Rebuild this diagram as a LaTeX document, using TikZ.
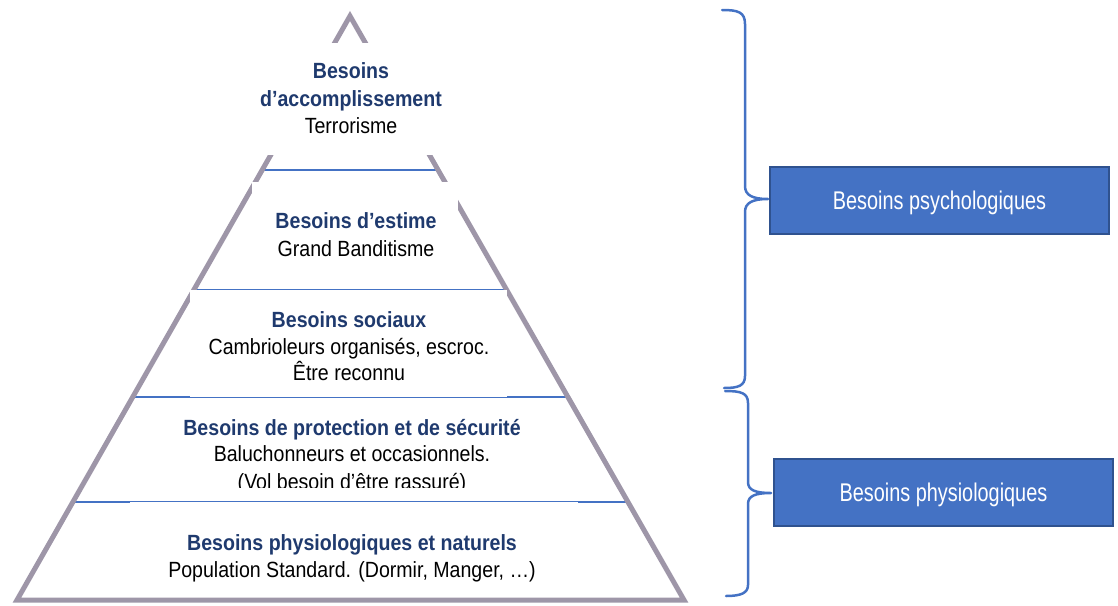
\documentclass[tikz,border=0pt]{standalone}
\usepackage{fontspec}
\setmainfont{Liberation Sans}
\usepackage{graphicx}
\definecolor{navy}{HTML}{1F3A6E}
\definecolor{pyrgray}{RGB}{158,150,168}
\definecolor{sepblue}{HTML}{4472C4}
\definecolor{boxborder}{HTML}{2F528F}
\newcommand{\nx}[1]{\scalebox{0.89}[1]{#1}}
\newcommand{\bx}[1]{\scalebox{0.776}[1]{#1}}
\begin{document}
\begin{tikzpicture}[x=1pt,y=-1pt,
  pyr/.style={draw=pyrgray, line width=5pt, line join=miter},
  sep/.style={draw=sepblue, line width=2pt},
  cover/.style={fill=white, draw=none},
  ttl/.style={anchor=base, inner sep=0pt, font=\fontsize{22}{26}\selectfont\bfseries, text=navy},
  txt/.style={anchor=base, inner sep=0pt, font=\fontsize{22}{26}\selectfont, text=black},
  brc/.style={draw=sepblue, line width=2.5pt, line cap=round, line join=round},
  bbox/.style={fill=sepblue, draw=boxborder, line width=2pt, minimum width=339pt, minimum height=67pt, inner sep=0pt, text height=18.3pt, text depth=0pt, text=white, font=\fontsize{25.6}{30}\selectfont}]
\useasboundingbox (0,0) rectangle (1118,605);

% pyramid corners
\coordinate (apex) at (350,16);
\coordinate (bl) at (17,600);
\coordinate (br) at (684,600);

% separators
\coordinate (s1l) at (262,170); \coordinate (s1r) at (438,170);
\coordinate (s2l) at (194,290); \coordinate (s2r) at (506,290);
\coordinate (s3l) at (133,397); \coordinate (s3r) at (567,397);
\coordinate (s4l) at (73,502);  \coordinate (s4r) at (627,502);
\draw[sep] (s1l) -- (s1r);
\draw[sep] (s2l) -- (s2r);
\draw[sep] (s3l) -- (s3r);
\draw[sep] (s4l) -- (s4r);

% outline
\draw[pyr] (apex) -- (bl) -- (br) -- cycle;

% white text areas
\fill[cover] (255,43) rectangle (447,155);
\fill[cover] (252,182) rectangle (458,288.5);
\fill[cover] (190,290) rectangle (507,397);
\fill[cover] (130,502) rectangle (578,597);

% texts
\node[ttl] (a1) at (351,78.5) {\nx{Besoins}};
\node[ttl] (a2) at (351,106) {\nx{d’accomplissement}};
\node[txt] (a3) at (351,133) {\nx{Terrorisme}};

\node[ttl] (e1) at (356,228.5) {\nx{Besoins d’estime}};
\node[txt] (e2) at (356,256) {\nx{Grand Banditisme}};

\node[ttl] (so1) at (349,327) {\nx{Besoins sociaux}};
\node[txt] (so2) at (349,354) {\nx{Cambrioleurs organisés, escroc.}};
\node[txt] (so3) at (349,380) {\nx{Être reconnu}};

\node[ttl] (p1) at (352,435) {\nx{Besoins de protection et de sécurité}};
\node[txt] (p2) at (352,461.5) {\nx{Baluchonneurs et occasionnels.}};
\begin{scope}
  \clip (100,466) rectangle (600,487.5);
  \node[txt] (p3) at (352,489) {\nx{(Vol besoin d’être rassuré)}};
\end{scope}

\node[ttl] (n1) at (352,550) {\nx{Besoins physiologiques et naturels}};
\node[txt] (n2) at (352,577) {\nx{Population Standard. (Dormir, Manger, …)}};

% boxes
\node[bbox] (psy) at (939.5,200.5) {\bx{Besoins psychologiques}};
\node[bbox] (phy) at (943.5,492) {\bx{Besoins physiologiques}};

% braces
\coordinate (b1t) at (722,10);
\coordinate (b1m) at (768,199);
\coordinate (b1b) at (724,388);
\draw[brc] (b1t) .. controls (738,10) and (745,12) .. (745,24) -- (745,186)
  .. controls (745,195) and (752,199) .. (b1m)
  .. controls (752,199) and (745,203) .. (745,212) -- (745,376)
  .. controls (745,386) and (738,388) .. (b1b);
\coordinate (b2t) at (725,391);
\coordinate (b2m) at (771,493);
\coordinate (b2b) at (726,596);
\draw[brc] (b2t) .. controls (741,391) and (748,393) .. (748,403) -- (748,482)
  .. controls (748,490) and (755,493) .. (b2m)
  .. controls (755,493) and (748,496) .. (748,504) -- (748,585)
  .. controls (748,593) and (741,596) .. (b2b);
\end{tikzpicture}
\end{document}
